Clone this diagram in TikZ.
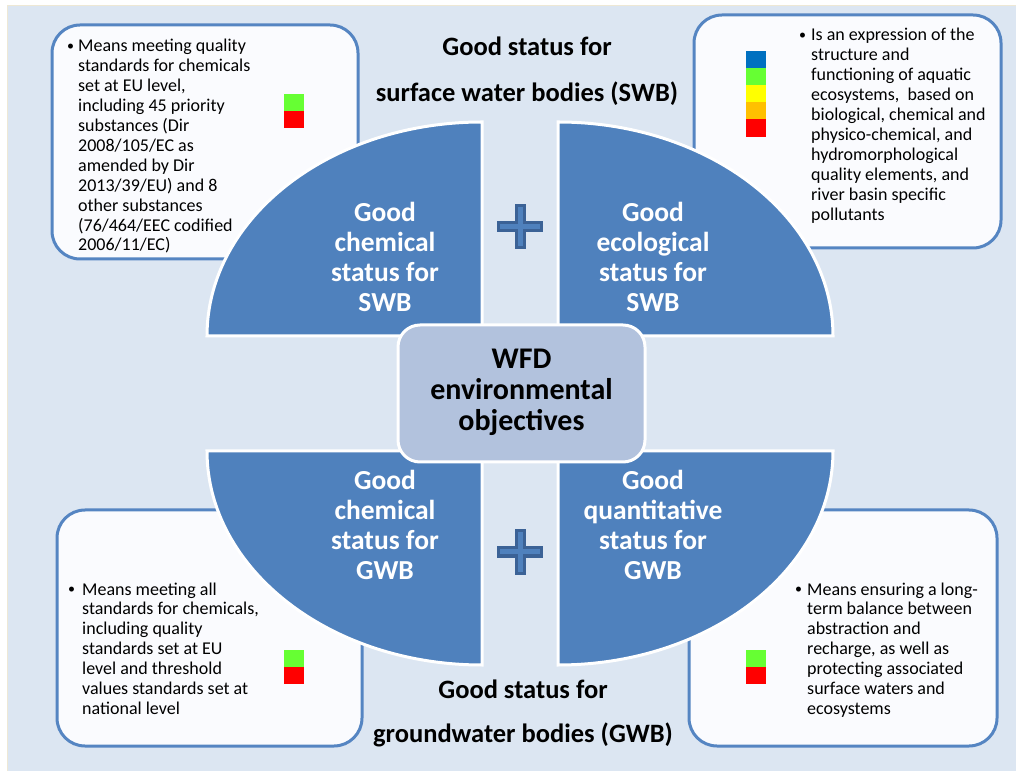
\documentclass[tikz,border=0pt]{standalone}
\usepackage{fontspec}
\setmainfont{Carlito}
\definecolor{bgc}{HTML}{DCE6F2}
\definecolor{cream}{HTML}{EEE8D5}
\definecolor{qfill}{HTML}{4F81BD}
\definecolor{wfdfill}{HTML}{B2C2DD}
\definecolor{boxline}{HTML}{5585C2}
\definecolor{boxfill}{HTML}{FAFBFE}
\definecolor{plusline}{HTML}{3B6296}
\definecolor{sqblue}{HTML}{0070C0}
\definecolor{sqgreen}{HTML}{66FF33}
\definecolor{sqyellow}{HTML}{FFFF00}
\definecolor{sqorange}{HTML}{FFC000}
\definecolor{sqred}{HTML}{FF0000}
\newcommand{\mybul}[1]{\makebox[#1][l]{\raisebox{1pt}{\fontsize{14}{14}\selectfont\textbullet}}}
\tikzset{
  textbox/.style={draw=boxline, fill=boxfill, line width=3pt, rounded corners=28pt},
  quarter/.style={fill=qfill, draw=white, line width=3pt},
  wfdbox/.style={fill=wfdfill, draw=white, line width=3pt, rounded corners=22pt,
    minimum width=247pt, minimum height=137pt, inner sep=0pt,
    font=\fontsize{30}{31}\selectfont\bfseries},
  plussign/.style={fill=qfill, draw=plusline, line width=3pt},
  btxt/.style={inner sep=0pt, anchor=base west, font=\fontsize{18}{19.9}\selectfont},
  qtxt/.style={inner sep=0pt, anchor=base, text=white, font=\fontsize{27.5}{30}\selectfont\bfseries},
  ttl/.style={inner sep=0pt, anchor=base, font=\fontsize{26.5}{46}\selectfont\bfseries},
}
\begin{document}
\begin{tikzpicture}[x=1pt,y=1pt]
\useasboundingbox (0,0) rectangle (1016,771);
\fill[white] (0,0) rectangle (1016,771);
\fill[bgc] (8,0) rectangle (1016,765);
\draw[cream, line width=1pt] (7.5,0) -- (7.5,765.5) -- (1016,765.5);

% text boxes
\draw[textbox] (52,512) rectangle (358,746);
\draw[textbox] (694,523) rectangle (1001,756);
\draw[textbox] (57,25) rectangle (362,261);
\draw[textbox] (689,25) rectangle (997,261);

% colour squares
\fill[sqgreen] (284,677) rectangle (304,660);
\fill[sqred]   (284,660) rectangle (304,643);
\fill[sqblue]   (746,720) rectangle (766,703);
\fill[sqgreen]  (746,703) rectangle (766,686);
\fill[sqyellow] (746,686) rectangle (766,669);
\fill[sqorange] (746,669) rectangle (766,652);
\fill[sqred]    (746,652) rectangle (766,634);
\fill[sqgreen] (284,121) rectangle (304,104);
\fill[sqred]   (284,104) rectangle (304,87);
\fill[sqgreen] (746,121) rectangle (766,104);
\fill[sqred]   (746,104) rectangle (766,87);

% quarter ellipses
\draw[quarter] (482,435) -- (207,435) arc[start angle=180,end angle=90,x radius=275,y radius=214] -- cycle;
\draw[quarter] (558,435) -- (558,649) arc[start angle=90,end angle=0,x radius=275,y radius=214] -- cycle;
\draw[quarter] (482,320) -- (207,320) arc[start angle=180,end angle=270,x radius=275,y radius=214] -- cycle;
\draw[quarter] (558,320) -- (833,320) arc[start angle=0,end angle=-90,x radius=275,y radius=214] -- cycle;

% plus signs
\draw[plussign, shift={(520,544)}] (-4,21) -- (4,21) -- (4,4) -- (21.5,4) -- (21.5,-4) -- (4,-4) -- (4,-21) -- (-4,-21) -- (-4,-4) -- (-21.5,-4) -- (-21.5,4) -- (-4,4) -- cycle;
\draw[plussign, shift={(520,219)}] (-4,21) -- (4,21) -- (4,4) -- (21.5,4) -- (21.5,-4) -- (4,-4) -- (4,-21) -- (-4,-21) -- (-4,-4) -- (-21.5,-4) -- (-21.5,4) -- (-4,4) -- cycle;

% centre
\node[wfdbox] (wfd) at (521.5,377.5) {\begin{tabular}{@{}c@{}}WFD\\environmental\\objectives\end{tabular}};

% quarter texts
\node[qtxt] (chemswb) at (385,549) {\begin{tabular}[t]{@{}c@{}}Good\\chemical\\status for\\SWB\end{tabular}};
\node[qtxt] (ecoswb) at (653,549) {\begin{tabular}[t]{@{}c@{}}Good\\ecological\\status for\\SWB\end{tabular}};
\node[qtxt] (chemgwb) at (385,281) {\begin{tabular}[t]{@{}c@{}}Good\\chemical\\status for\\GWB\end{tabular}};
\node[qtxt] (quantgwb) at (653,281) {\begin{tabular}[t]{@{}c@{}}Good\\quantitative\\status for\\GWB\end{tabular}};

% titles
\node[ttl] (swbtitle) at (527,715) {\begin{tabular}[t]{@{}c@{}}Good status for\\surface water bodies (SWB)\end{tabular}};
\node[ttl, font=\fontsize{26.5}{44}\selectfont\bfseries] (gwbtitle) at (523,73) {\begin{tabular}[t]{@{}c@{}}Good status for\\groundwater bodies (GWB)\end{tabular}};

% box texts
\node[btxt] (tltext) at (67,719) {\begin{tabular}[t]{@{}l@{}l@{}}
\mybul{11pt} & Means meeting quality\\
 & standards for chemicals\\
 & set at EU level,\\
 & including 45 priority\\
 & substances (Dir\\
 & 2008/105/EC as\\
 & amended by Dir\\
 & 2013/39/EU) and 8\\
 & other substances\\
 & (76/464/EEC codified\\
 & 2006/11/EC)\end{tabular}};
\node[btxt] (trtext) at (799,730) {\begin{tabular}[t]{@{}l@{}l@{}}
\mybul{12pt} & Is an expression of the\\
 & structure and\\
 & functioning of aquatic\\
 & ecosystems,\ \ based on\\
 & biological, chemical and\\
 & physico-chemical, and\\
 & hydromorphological\\
 & quality elements, and\\
 & river basin specific\\
 & pollutants\end{tabular}};
\node[btxt] (bltext) at (68,176) {\begin{tabular}[t]{@{}l@{}l@{}}
\mybul{14pt} & Means meeting all\\
 & standards for chemicals,\\
 & including quality\\
 & standards set at EU\\
 & level and threshold\\
 & values standards set at\\
 & national level\end{tabular}};
\node[btxt] (brtext) at (795,176) {\begin{tabular}[t]{@{}l@{}l@{}}
\mybul{12pt} & Means ensuring a long-\\
 & term balance between\\
 & abstraction and\\
 & recharge, as well as\\
 & protecting associated\\
 & surface waters and\\
 & ecosystems\end{tabular}};
\end{tikzpicture}
\end{document}
